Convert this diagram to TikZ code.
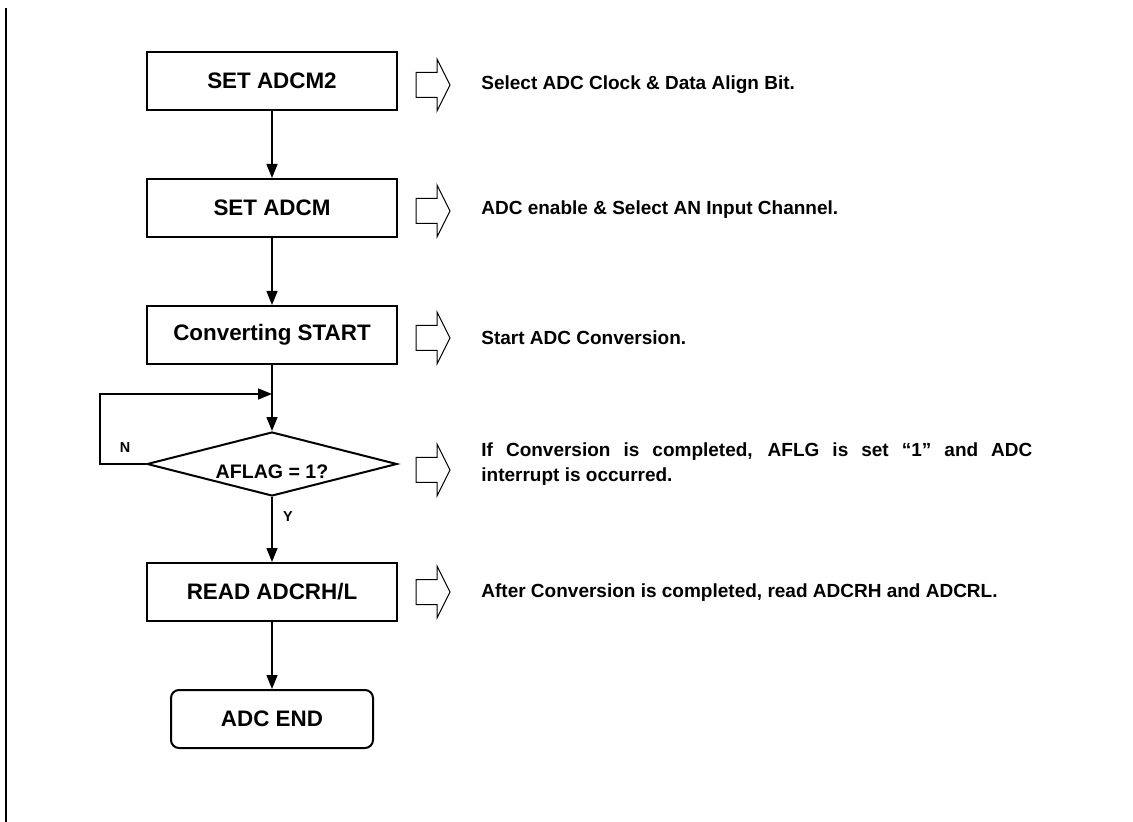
\documentclass[tikz,border=0pt]{standalone}
\usepackage{fontspec}
\setmainfont{Liberation Sans}
\usetikzlibrary{arrows.meta,shapes.geometric}
\tikzset{
  stepbox/.style={draw, line width=1pt, minimum width=125pt, minimum height=29pt,
                  inner sep=0pt, font=\bfseries\fontsize{11.2}{13}\selectfont},
  endbox/.style={stepbox, rounded corners=4pt, minimum width=101pt},
  decision/.style={draw, diamond, aspect=3.9, line width=1pt, minimum width=125pt,
                   minimum height=32pt, inner sep=0pt},
  note/.style={anchor=west, inner sep=0pt, font=\bfseries\fontsize{9.5}{12.5}\selectfont},
  yn/.style={inner sep=0pt, font=\bfseries\fontsize{7.2}{8}\selectfont},
  flow/.style={-{Triangle[length=7pt,width=5.5pt]}, line width=0.75pt},
  hollow/.style={draw, line width=0.5pt, line join=miter},
}

\begin{document}
\begin{tikzpicture}[x=0.5pt, y=-0.5pt]
    \useasboundingbox (0,0) rectangle (1133,822);
    \draw[line width=1pt] (6,8) -- (6,822);

    \node[stepbox] (adcm2) at (272,81) {SET ADCM2};
    \node[stepbox] (adcm) at (272,208) {SET ADCM};
    \node[stepbox] (start) at (272,335) {Converting START};
    \node[decision, label={[font=\bfseries\fontsize{9.8}{12}\selectfont, yshift=-4pt]center:AFLAG = 1?}] (flag) at (272,464) {};
    \node[stepbox] (read) at (272,592) {READ ADCRH/L};
    \node[endbox] (done) at (272,719) {ADC END};
    \coordinate (merge) at (272,394);

    \draw[flow] (adcm2) -- (adcm);
    \draw[flow] (adcm) -- (start);
    \draw[flow] (start) -- (flag);
    \draw[flow] (flag.west) -- ++(-46,0) |- (merge);
    \draw[flow] (flag) -- (read);
    \draw[flow] (read) -- (done);

    \node[yn] (no) at (125,448) {N};
    \node[yn] (yes) at (288,517) {Y};

    % hollow arrows
    \foreach \ay in {85,211,338,470,592}
      \draw[hollow] (416,\ay-12.5) -- (437,\ay-12.5) -- (437,\ay-26) -- (450,\ay)
        -- (437,\ay+26) -- (437,\ay+12.5) -- (416,\ay+12.5) -- cycle;

    \node[note] (n1) at (481,85) {Select ADC Clock \& Data Align Bit.};
    \node[note] (n2) at (481,210) {ADC enable \& Select AN Input Channel.};
    \node[note] (n3) at (481,338) {Start ADC Conversion.};
    \node[note, text width=275.5pt, align=justify] (n4) at (481,464)
      {If Conversion is completed, AFLG is set “1” and ADC\linebreak interrupt is occurred.};
    \node[note] (n5) at (481,593) {After Conversion is completed, read ADCRH and ADCRL.};
\end{tikzpicture}
\end{document}
